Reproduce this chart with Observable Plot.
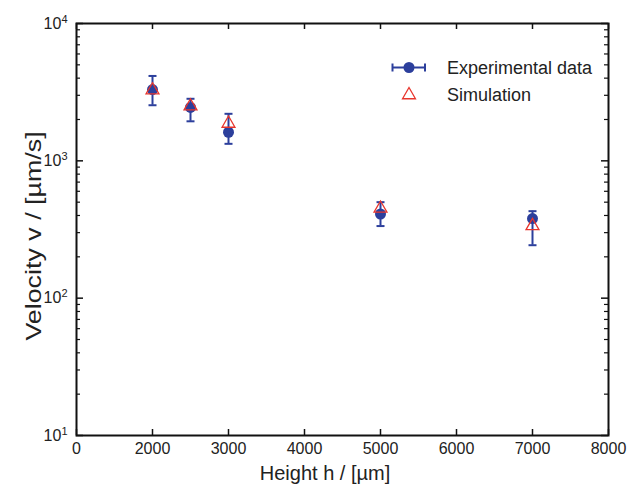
<!DOCTYPE html>
<html>
<head>
<meta charset="utf-8">
<script src="https://cdn.jsdelivr.net/npm/d3@7"></script>
<script src="https://cdn.jsdelivr.net/npm/@observablehq/plot@0.6"></script>
<style>
  body { margin: 0; background: #fff; }
  #chart { position: relative; width: 632px; height: 492px; }
</style>
</head>
<body>
<div id="chart"></div>
<script>
// ---- data ----
const heights = [2000, 2500, 3000, 5000, 7000];
const expVel  = [3300, 2450, 1615, 410, 380];
const expLow  = [2540, 1940, 1330, 335, 243];
const expHigh = [4150, 2830, 2200, 500, 430];
const simVel  = [3270, 2500, 1870, 450, 336];

const xTickValues = [1000, 2000, 3000, 4000, 5000, 6000, 7000, 8000];
const xTickLabels = ["0", "2000", "3000", "4000", "5000", "6000", "7000", "8000"];
const yTickValues = [10, 100, 1000, 10000];
const yTickExponents = ["1", "2", "3", "4"];
const yMinorTicks = [10, 100, 1000].flatMap(d => [2,3,4,5,6,7,8,9].map(k => d * k));

const legendLabels = ["Experimental data", "Simulation"];

const exp = heights.map((h, i) => ({h, v: expVel[i], lo: expLow[i], hi: expHigh[i]}));
const sim = heights.map((h, i) => ({h, v: simVel[i]}));

const W = 632, H = 492, ML = 76, MR = 24, MT = 23, MB = 57;
const FW = W - ML - MR, FH = H - MT - MB;
const blue = "#2c3f9c", red = "#e8352c";
const font = "'Liberation Sans', Arial, Helvetica, sans-serif";

const capSymbol = {
  draw(ctx, size) { const r = 4; ctx.moveTo(-r, 0); ctx.lineTo(r, 0); }
};

const svg = Plot.plot({
  width: W, height: H,
  marginLeft: ML, marginRight: MR, marginTop: MT, marginBottom: MB,
  style: { fontFamily: font, color: "#222", background: "#fff" },
  x: { domain: [1000, 8000] },
  y: { type: "log", domain: [10, 10000] },
  marks: [
    // inward ticks, bottom & top
    Plot.ruleX(xTickValues, { insetTop: FH - 6, stroke: "#111", strokeWidth: 1.5 }),
    Plot.ruleX(xTickValues, { insetBottom: FH - 6, stroke: "#111", strokeWidth: 1.5 }),
    // inward ticks, left & right (major)
    Plot.ruleY(yTickValues, { insetRight: FW - 7, stroke: "#111", strokeWidth: 1.5 }),
    Plot.ruleY(yTickValues, { insetLeft: FW - 7, stroke: "#111", strokeWidth: 1.5 }),
    // minor
    Plot.ruleY(yMinorTicks, { insetRight: FW - 4, stroke: "#111", strokeWidth: 1.2 }),
    Plot.ruleY(yMinorTicks, { insetLeft: FW - 4, stroke: "#111", strokeWidth: 1.2 }),
    Plot.frame({ stroke: "#111", strokeWidth: 2 }),
    Plot.axisX({ ticks: xTickValues, tickFormat: (d) => xTickLabels[xTickValues.indexOf(d)],
      tickSize: 0, tickPadding: 7, fontSize: 16, label: null }),
    Plot.axisY({ ticks: yTickValues, tickFormat: d => "10^" + yTickExponents[yTickValues.indexOf(d)],
      tickSize: 0, tickPadding: 9, fontSize: 16, label: null }),
    // error bars
    Plot.ruleX(exp, { x: "h", y1: "lo", y2: "hi", stroke: blue, strokeWidth: 2 }),
    Plot.dot(exp, { x: "h", y: "lo", symbol: capSymbol, stroke: blue, strokeWidth: 2, r: 4 }),
    Plot.dot(exp, { x: "h", y: "hi", symbol: capSymbol, stroke: blue, strokeWidth: 2, r: 4 }),
    Plot.dot(exp, { x: "h", y: "v", r: 5.5, fill: blue, stroke: null }),
    Plot.dot(sim, { x: "h", y: "v", symbol: "triangle", r: 4.8, stroke: red, strokeWidth: 1.3, fill: "none" })
  ]
});

const s = d3.select(svg);
s.selectAll('g[aria-label="x-axis tick label"] text').attr("font-size", 16).style("font-size", "16px");
// superscript exponents on y tick labels
s.selectAll('g[aria-label="y-axis tick label"] text').each(function() {
  const t = d3.select(this);
  const str = t.text();
  const [base, ex] = str.split("^");
  t.text(null).attr("font-size", 16).style("font-size", "16px");
  t.append("tspan").text(base);
  t.append("tspan").attr("dy", "-0.55em").style("font-size", "11px").text(ex);
});

// axis labels
s.append("text").attr("x", 325).attr("y", 480).attr("text-anchor", "middle")
  .style("font-size", "20px").attr("fill", "#222").style("font-family", font).text("Height h / [µm]");
s.append("text").attr("transform", "translate(41,236) rotate(-90) scale(1.22,1)").attr("text-anchor", "middle")
  .style("font-size", "22px").attr("fill", "#222").style("font-family", font).text("Velocity v / [µm/s]");

// legend
const lg = s.append("g");
lg.append("line").attr("x1", 392.5).attr("x2", 425).attr("y1", 67.5).attr("y2", 67.5).attr("stroke", blue).attr("stroke-width", 2);
lg.append("line").attr("x1", 392.5).attr("x2", 392.5).attr("y1", 63.5).attr("y2", 71.5).attr("stroke", blue).attr("stroke-width", 2);
lg.append("line").attr("x1", 425).attr("x2", 425).attr("y1", 63.5).attr("y2", 71.5).attr("stroke", blue).attr("stroke-width", 2);
lg.append("circle").attr("cx", 409).attr("cy", 67.5).attr("r", 5.5).attr("fill", blue);
lg.append("path").attr("transform", "translate(409,95)")
  .attr("d", d3.symbol(d3.symbolTriangle, 4.8 * 4.8 * Math.PI)()).attr("fill", "none").attr("stroke", red).attr("stroke-width", 1.3);
lg.append("text").attr("x", 447).attr("y", 73.5).attr("text-anchor", "start").style("font-size", "18px").attr("fill", "#222").style("font-family", font).text(legendLabels[0]);
lg.append("text").attr("x", 447).attr("y", 101).attr("text-anchor", "start").style("font-size", "18px").attr("fill", "#222").style("font-family", font).text(legendLabels[1]);

document.getElementById("chart").appendChild(svg);
</script>
</body>
</html>
